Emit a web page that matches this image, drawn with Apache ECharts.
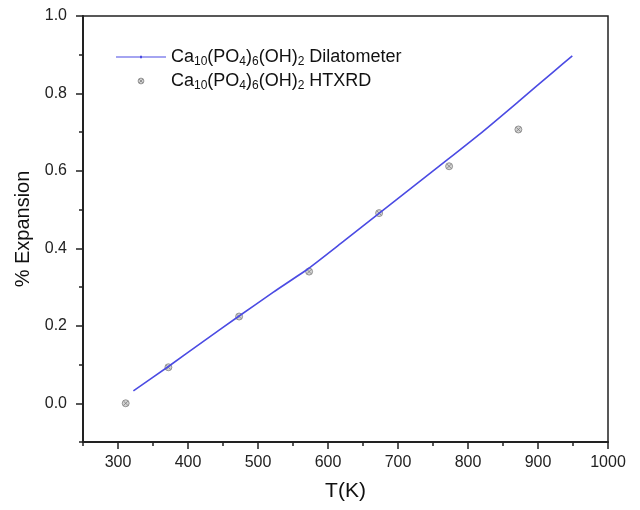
<!DOCTYPE html>
<html><head><meta charset="utf-8">
<script src="https://cdn.jsdelivr.net/npm/echarts@6/dist/echarts.min.js"></script>
<style>html,body{margin:0;padding:0;background:#fff}#c{width:640px;height:510px}</style>
</head><body><div id="c"></div>
<script>
const dilatometerT = [322, 372, 422, 472, 522, 572, 622, 672, 722, 772, 822, 872, 922, 949];
const dilatometerY = [0.032, 0.095, 0.160, 0.224, 0.287, 0.348, 0.418, 0.489, 0.560, 0.631, 0.703, 0.779, 0.856, 0.897];
const htxrdT = [311, 372, 473, 573, 673, 773, 872];
const htxrdY = [0.000, 0.093, 0.224, 0.340, 0.491, 0.612, 0.707];
const xTicks = [300, 400, 500, 600, 700, 800, 900, 1000];
const yTicks = [0.0, 0.2, 0.4, 0.6, 0.8, 1.0];
const seriesNames = ['Ca10(PO4)6(OH)2 Dilatometer', 'Ca10(PO4)6(OH)2 HTXRD'];
const legendRich = {
  'Ca10(PO4)6(OH)2 Dilatometer': '{n|Ca}{s|10}{n|(PO}{s|4}{n|)}{s|6}{n|(OH)}{s|2}{n| Dilatometer}',
  'Ca10(PO4)6(OH)2 HTXRD': '{n|Ca}{s|10}{n|(PO}{s|4}{n|)}{s|6}{n|(OH)}{s|2}{n| HTXRD}'
};

const FONT = 'Liberation Sans, Arial, sans-serif';
const AX = '#222';
const LINE_COLOR = '#4b4be3';
const gridPos = { left: 83, right: 32, top: 16, bottom: 68 };
const xsym = 'path://M0,5A5,5,0,1,1,10,5A5,5,0,1,1,0,5ZM1.8,1.8L8.2,8.2M8.2,1.8L1.8,8.2';
const xsymLegend = 'path://M-7,-7M17,17M0,5A5,5,0,1,1,10,5A5,5,0,1,1,0,5ZM1.8,1.8L8.2,8.2M8.2,1.8L1.8,8.2';
const lineLegend = 'path://M0,6.4L50,6.4L50,7.6L0,7.6ZM24,5.8L26,5.8L26,8.2L24,8.2Z';

const chart = echarts.init(document.getElementById('c'), null, { renderer: 'canvas' });
chart.setOption({
  backgroundColor: '#fff',
  animation: false,
  grid: [
    Object.assign({ show: true, borderColor: AX, borderWidth: 1.5, backgroundColor: 'transparent' }, gridPos),
    Object.assign({ show: false }, gridPos)
  ],
  legend: {
    orient: 'vertical',
    left: 111, top: 43,
    itemWidth: 50, itemHeight: 14, itemGap: 4,
    data: [
      { name: seriesNames[0], icon: lineLegend, itemStyle: { color: LINE_COLOR, borderWidth: 0 } },
      { name: seriesNames[1], icon: xsymLegend, itemStyle: { color: '#c8c8c8', borderColor: '#777', borderWidth: 0.9 } }
    ],
    formatter: function (name) { return legendRich[name]; },
    textStyle: {
      rich: {
        n: { fontSize: 18, fontFamily: FONT, color: '#111', lineHeight: 22, verticalAlign: 'middle' },
        s: { fontSize: 12, fontFamily: FONT, color: '#111', verticalAlign: 'bottom' }
      }
    }
  },
  xAxis: [
    {
      gridIndex: 0, type: 'value', min: 250, max: 1000,
      name: 'T(K)', nameLocation: 'middle', nameGap: 39,
      nameTextStyle: { fontSize: 21, fontFamily: FONT, color: '#111' },
      axisLine: { show: true, onZero: false, lineStyle: { color: AX, width: 2 } },
      axisTick: { show: true, inside: false, length: 7, customValues: xTicks, lineStyle: { color: AX, width: 1.5 } },
      axisLabel: { customValues: xTicks, margin: 13, fontSize: 16, fontFamily: FONT, color: '#222',
                   formatter: function (v) { return String(v); } },
      splitLine: { show: false }
    },
    {
      gridIndex: 1, type: 'value', min: 250, max: 1000, interval: 50,
      axisLine: { show: false, onZero: false },
      axisTick: { show: true, inside: false, length: 4, lineStyle: { color: AX, width: 1.5 } },
      axisLabel: { show: false },
      splitLine: { show: false }
    }
  ],
  yAxis: [
    {
      gridIndex: 0, type: 'value', min: -0.1, max: 1.0,
      name: '% Expansion', nameLocation: 'middle', nameGap: 48, nameRotate: 90,
      nameTextStyle: { fontSize: 20, fontFamily: FONT, color: '#111' },
      axisLine: { show: true, onZero: false, lineStyle: { color: AX, width: 2 } },
      axisTick: { show: true, inside: false, length: 7, customValues: yTicks, lineStyle: { color: AX, width: 1.5 } },
      axisLabel: { customValues: yTicks, margin: 16, fontSize: 16, fontFamily: FONT, color: '#222',
                   formatter: function (v) { return v.toFixed(1); } },
      splitLine: { show: false }
    },
    {
      gridIndex: 1, type: 'value', min: -0.1, max: 1.0, interval: 0.1,
      axisLine: { show: false, onZero: false },
      axisTick: { show: true, inside: false, length: 4, lineStyle: { color: AX, width: 1.5 } },
      axisLabel: { show: false },
      splitLine: { show: false }
    }
  ],
  series: [
    {
      name: seriesNames[0], type: 'line', xAxisIndex: 0, yAxisIndex: 0,
      data: dilatometerT.map((t, i) => [t, dilatometerY[i]]),
      showSymbol: false, symbol: 'circle', symbolSize: 3, smooth: 0.2,
      lineStyle: { color: LINE_COLOR, width: 1.6 },
      itemStyle: { color: LINE_COLOR }
    },
    {
      name: seriesNames[1], type: 'scatter', xAxisIndex: 0, yAxisIndex: 0,
      data: htxrdT.map((t, i) => [t, htxrdY[i]]),
      symbol: xsym, symbolSize: 7,
      itemStyle: { color: '#c8c8c8', borderColor: '#777', borderWidth: 0.9 }
    }
  ]
});
</script>
</body></html>
